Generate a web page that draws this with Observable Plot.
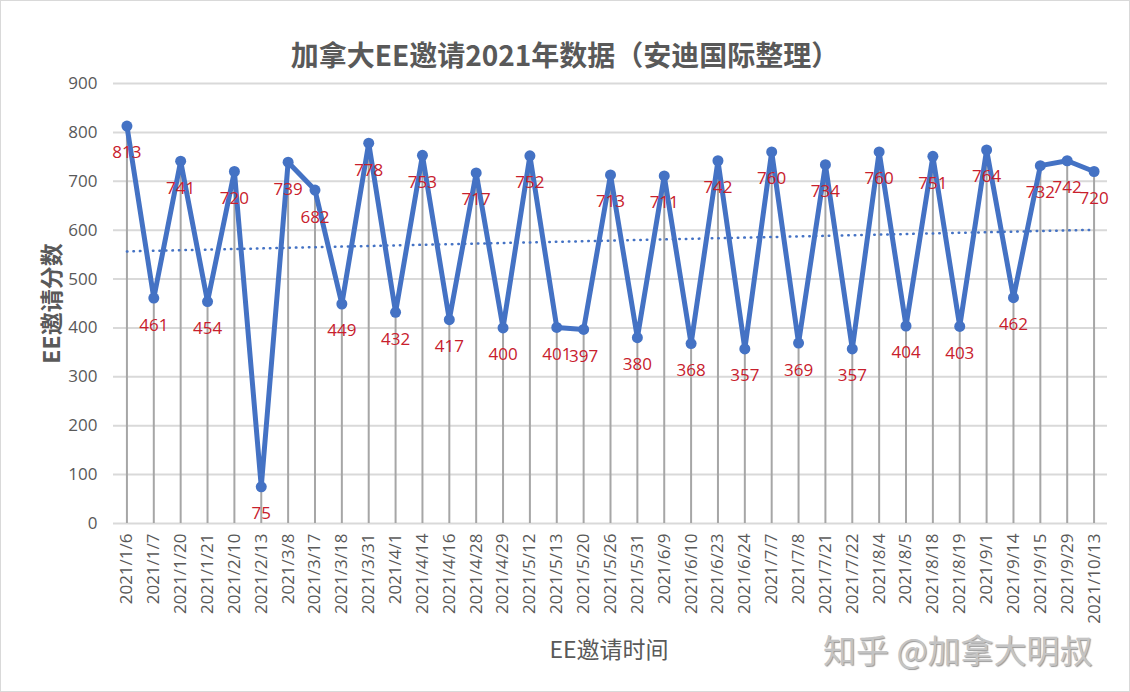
<!DOCTYPE html>
<html>
<head>
<meta charset="utf-8">
<script src="https://cdn.jsdelivr.net/npm/d3@7"></script>
<script src="https://cdn.jsdelivr.net/npm/@observablehq/plot@0.6"></script>
<style>
  html, body { margin: 0; padding: 0; background: #fff; }
  #wrap { position: relative; width: 1128px; height: 690px; border: 1px solid #d9d9d9; overflow: hidden;
          font-family: "Noto Sans CJK SC", "Noto Sans", sans-serif; }
  #title { height: 66px; box-sizing: border-box; padding-top: 38px; text-align: center; font-size: 28px; font-weight: bold;
           color: #595959; line-height: 30px; }
  #plot svg { display: block; }
  #plot svg [aria-label="y-axis label"] text { font-size: 23px; font-weight: bold; fill: #595959;
           font-family: "Noto Sans CJK SC", sans-serif; }
  #xtitle { position: absolute; left: 0; top: 630px; width: 1216px; text-align: center; font-size: 23px; color: #595959; }
  #mark { position: absolute; left: 822px; top: 624px; font-size: 33px; color: #c4c4c4;
          text-shadow: 1px 1px 1px #999; letter-spacing: 0px; }
</style>
</head>
<body>
<div id="wrap">
  <div id="title">加拿大EE邀请2021年数据（安迪国际整理）</div>
  <div id="plot"></div>
  <div id="xtitle">EE邀请时间</div>
  <div id="mark">知乎 @加拿大明叔</div>
</div>
<script>
const dates = ["2021/1/6","2021/1/7","2021/1/20","2021/1/21","2021/2/10","2021/2/13","2021/3/8","2021/3/17","2021/3/18","2021/3/31","2021/4/1","2021/4/14","2021/4/16","2021/4/28","2021/4/29","2021/5/12","2021/5/13","2021/5/20","2021/5/26","2021/5/31","2021/6/9","2021/6/10","2021/6/23","2021/6/24","2021/7/7","2021/7/8","2021/7/21","2021/7/22","2021/8/4","2021/8/5","2021/8/18","2021/8/19","2021/9/1","2021/9/14","2021/9/15","2021/9/29","2021/10/13"];
const scores = [813,461,741,454,720,75,739,682,449,778,432,753,417,717,400,752,401,397,713,380,711,368,742,357,760,369,734,357,760,404,751,403,764,462,732,742,720];
const yTicks = [0,100,200,300,400,500,600,700,800,900];

const data = dates.map((d, i) => ({i, date: d, v: scores[i]}));
const numFont = '"Open Sans", "Noto Sans", sans-serif';

const chart = Plot.plot({
  width: 1128,
  height: 560,
  marginTop: 16,
  marginBottom: 104,
  marginLeft: 112,
  marginRight: 22,
  style: {fontFamily: numFont, color: "#595959", background: "#fff"},
  x: {domain: [-0.5, dates.length - 0.5]},
  y: {domain: [0, 900]},
  marks: [
    Plot.gridY(yTicks, {stroke: "#d9d9d9", strokeOpacity: 1, strokeWidth: 2}),
    Plot.ruleX(data, {x: "i", y1: 0, y2: "v", stroke: "#a6a6a6", strokeWidth: 2}),
    Plot.axisY({ticks: yTicks, tickSize: 0, tickPadding: 16, fontSize: 17, label: "EE邀请分数", labelAnchor: "center", labelArrow: "none", labelOffset: 70}),
    Plot.axisX({ticks: d3.range(dates.length), tickFormat: i => dates[i], tickSize: 0, tickPadding: 10, tickRotate: -90, fontSize: 17, label: null}),
    Plot.linearRegressionY(data, {x: "i", y: "v", stroke: "#4472C4", strokeWidth: 2.5, strokeDasharray: "0.5,6", strokeLinecap: "round", ci: 0}),
    Plot.line(data, {x: "i", y: "v", stroke: "#4472C4", strokeWidth: 5, strokeLinejoin: "round"}),
    Plot.dot(data, {x: "i", y: "v", r: 5.5, fill: "#4472C4", stroke: "none"}),
    Plot.text(data, {x: "i", y: "v", text: d => String(d.v), dy: 27, fill: "#c8202c", fontSize: 17})
  ]
});
document.getElementById("plot").appendChild(chart);
</script>
</body>
</html>
